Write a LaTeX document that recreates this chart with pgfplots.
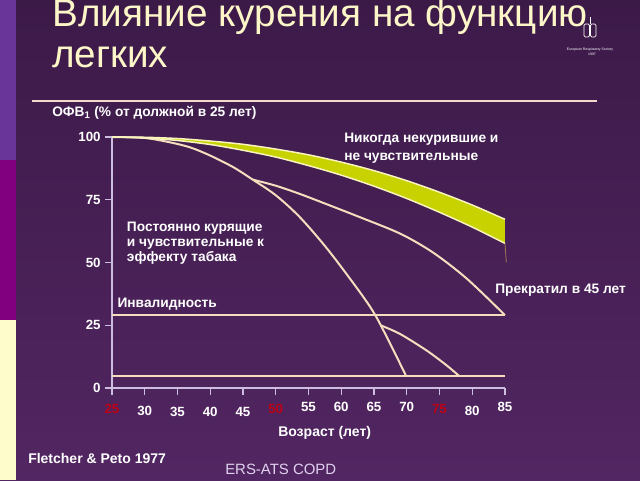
\documentclass[border=0pt]{standalone}
\usepackage{pgfplots}
\pgfplotsset{compat=1.18}
\usepackage{fontspec}
\setmainfont{Liberation Sans}
\definecolor{bgtop}{RGB}{60,26,72}
\definecolor{bgbot}{RGB}{82,38,98}
\definecolor{stripA}{RGB}{106,53,152}
\definecolor{stripB}{RGB}{128,0,128}
\definecolor{stripC}{RGB}{255,252,204}
\definecolor{titlecol}{RGB}{253,246,200}
\definecolor{rulecol}{RGB}{240,218,205}
\definecolor{linecol}{RGB}{245,222,190}
\definecolor{axiscol}{RGB}{205,190,225}
\definecolor{bandcol}{RGB}{200,210,0}
\definecolor{bandedge}{RGB}{250,245,190}
\definecolor{tickred}{RGB}{190,0,20}
\definecolor{erscol}{RGB}{225,210,240}
\definecolor{tailcol}{RGB}{160,120,80}
\begin{document}
\begin{tikzpicture}
\begin{scope}[x=0.75pt,y=0.75pt]
\shade[top color=bgtop,bottom color=bgbot] (0,0) rectangle (640,480);
\fill[stripA] (0,320) rectangle (16,480);
\fill[stripB] (0,160) rectangle (16,320);
\fill[stripC] (0,0) rectangle (16,160);
% title
\node[overlay, anchor=base west, inner sep=0, text=titlecol, font=\fontsize{29}{29}\selectfont] at (52,454) {Влияние курения на функцию};
\node[anchor=base west, inner sep=0, text=titlecol, font=\fontsize{29}{29}\selectfont] at (52,413) {легких};
\draw[rulecol, line width=1.5pt] (32,379.3) -- (597,379.3);
% logo
\draw[white, line width=0.6pt, rounded corners=1pt] (584,443) rectangle (589.5,456);
\draw[white, line width=0.6pt, rounded corners=1pt] (590.5,443) rectangle (596,456);
\draw[white, line width=0.6pt] (590,456) -- (590,463);
\node[white, inner sep=0, font=\fontsize{2.6}{3}\selectfont] at (590,430) {European Respiratory Society};
\node[white, inner sep=0, font=\fontsize{2.6}{3}\selectfont] at (592,426) {1997};
\node[anchor=base west, inner sep=0, text=white, font=\bfseries\fontsize{10.3}{11}\selectfont] at (52,363.3) {ОФВ\textsubscript{1} (\% от должной в 25 лет)};
\end{scope}
\begin{axis}[
  at={(84pt,69pt)}, anchor=south west, scale only axis,
  width=294.75pt, height=188.25pt,
  xmin=25, xmax=85, ymin=0, ymax=100,
  axis x line=bottom, axis y line=left,
  axis line style={axiscol, line width=1.2pt, -},
  clip=false,
  tick align=outside, major tick length=5pt,
  tick style={axiscol, line width=1pt},
  xtick={25,30,...,85},
  xticklabels={\raisebox{0.25pt}{\textcolor{tickred}{25}},\raisebox{-1.5pt}{30},\raisebox{-2.25pt}{35},\raisebox{-2.25pt}{40},\raisebox{-2.6pt}{45},\raisebox{0.25pt}{\textcolor{tickred}{50}},\raisebox{1.7pt}{55},\raisebox{1.7pt}{60},\raisebox{1.7pt}{65},\raisebox{1.7pt}{70},\raisebox{0pt}{\textcolor{tickred}{75}},\raisebox{-1.5pt}{80},\raisebox{1.7pt}{85}},
  ytick={0,25,50,75,100},
  yticklabels={0,25,50,75,100},
  ticklabel style={font=\bfseries\fontsize{10}{10}\selectfont, text=white},
  xticklabel style={anchor=base, yshift=-14pt},
]
\addplot[linecol, line width=1.5pt] coordinates {(25,29) (85,29)};
\addplot[linecol, line width=1.5pt] coordinates {(25,4.8) (85,4.8)};
% persistent smokers, susceptible
\addplot[linecol, line width=1.5pt, smooth] coordinates {
(25,100) (30,99.6) (34,97.8) (37,95.8) (40,92.6) (43.5,88) (46.5,83) (50,76.8) (53.7,68) (58,55) (62.9,38) (65.2,29) (67.5,17.5) (69.9,4.8)};
% stopped at 45
\addplot[linecol, line width=1.5pt, smooth] coordinates {
(46.5,83) (50,80.6) (53.7,77.3) (58,73) (62.9,68) (69,61.5) (74,54) (79.2,43.5) (85,29)};
% stopped at 65
\addplot[linecol, line width=1.5pt, smooth] coordinates {
(66,25) (69,21.5) (73,15) (76,9.2) (78,4.8)};
% never smokers band (fill)
\addplot[fill=bandcol, draw=none] coordinates {
(25,100) (27.5,99.97) (30,99.9) (32.5,99.66) (35,99.4) (37.5,98.96) (40,98.4) (42.5,97.82) (45,97.1) (47.5,96.21) (50,95.2) (52.5,94.11) (55,92.9) (57.5,91.49) (60,90.0) (62.5,88.34) (65,86.6) (67.5,84.64) (70,82.6) (72.5,80.38) (75,78.0) (77.5,75.55) (80,72.9) (82.5,70.13) (85,67.2)
(85,57.6) (82.5,60.9) (80,64.1) (77.5,67.1) (75,70.0) (72.5,72.8) (70,75.5) (67.5,77.98) (65,80.4) (62.5,82.64) (60,84.8) (57.5,86.78) (55,88.6) (52.5,90.37) (50,92.0) (47.5,93.42) (45,94.7) (42.5,95.92) (40,97.0) (37.5,97.85) (35,98.6) (32.5,99.18) (30,99.6) (27.5,99.9) (25,100)} -- cycle;
\addplot[bandedge, line width=1.1pt, smooth] coordinates {
(25,100) (30,99.9) (35,99.4) (40,98.4) (45,97.1) (50,95.2) (55,92.9) (60,90.0) (65,86.6) (70,82.6) (75,78.0) (80,72.9) (85,67.2)};
\addplot[bandedge, line width=1.1pt, smooth] coordinates {
(25,100) (30,99.6) (35,98.6) (40,97.0) (45,94.7) (50,92.0) (55,88.6) (60,84.8) (65,80.4) (70,75.5) (75,70.0) (80,64.1) (85,57.6)};
\addplot[tailcol, line width=0.6pt] coordinates {(85,57.6) (85.2,50)};
\end{axis}
\begin{scope}[x=0.75pt,y=0.75pt]
\tikzset{lab/.style={anchor=base west, inner sep=0, text=white, font=\bfseries\fontsize{10.3}{12}\selectfont}}
\node[lab] at (344,337.3) {Никогда некурившие и};
\node[lab] at (344,320) {не чувствительные};
\node[lab] at (126.7,249) {Постоянно курящие};
\node[lab] at (126.7,233.3) {и чувствительные к};
\node[lab] at (126.7,218.3) {эффекту табака};
\node[lab] at (495,187) {Прекратил в 45 лет};
\node[lab] at (117.3,173) {Инвалидность};
\node[anchor=base west, inner sep=0, text=white, font=\bfseries\fontsize{10.5}{12}\selectfont] at (278,44) {Возраст (лет)};
\node[anchor=base west, inner sep=0, text=white, font=\bfseries\fontsize{10.5}{12}\selectfont] at (28,17) {Fletcher \& Peto 1977};
\node[anchor=base west, inner sep=0, text=erscol, font=\fontsize{11.2}{12}\selectfont] at (225,6) {ERS-ATS COPD};
\end{scope}
\end{tikzpicture}
\end{document}
